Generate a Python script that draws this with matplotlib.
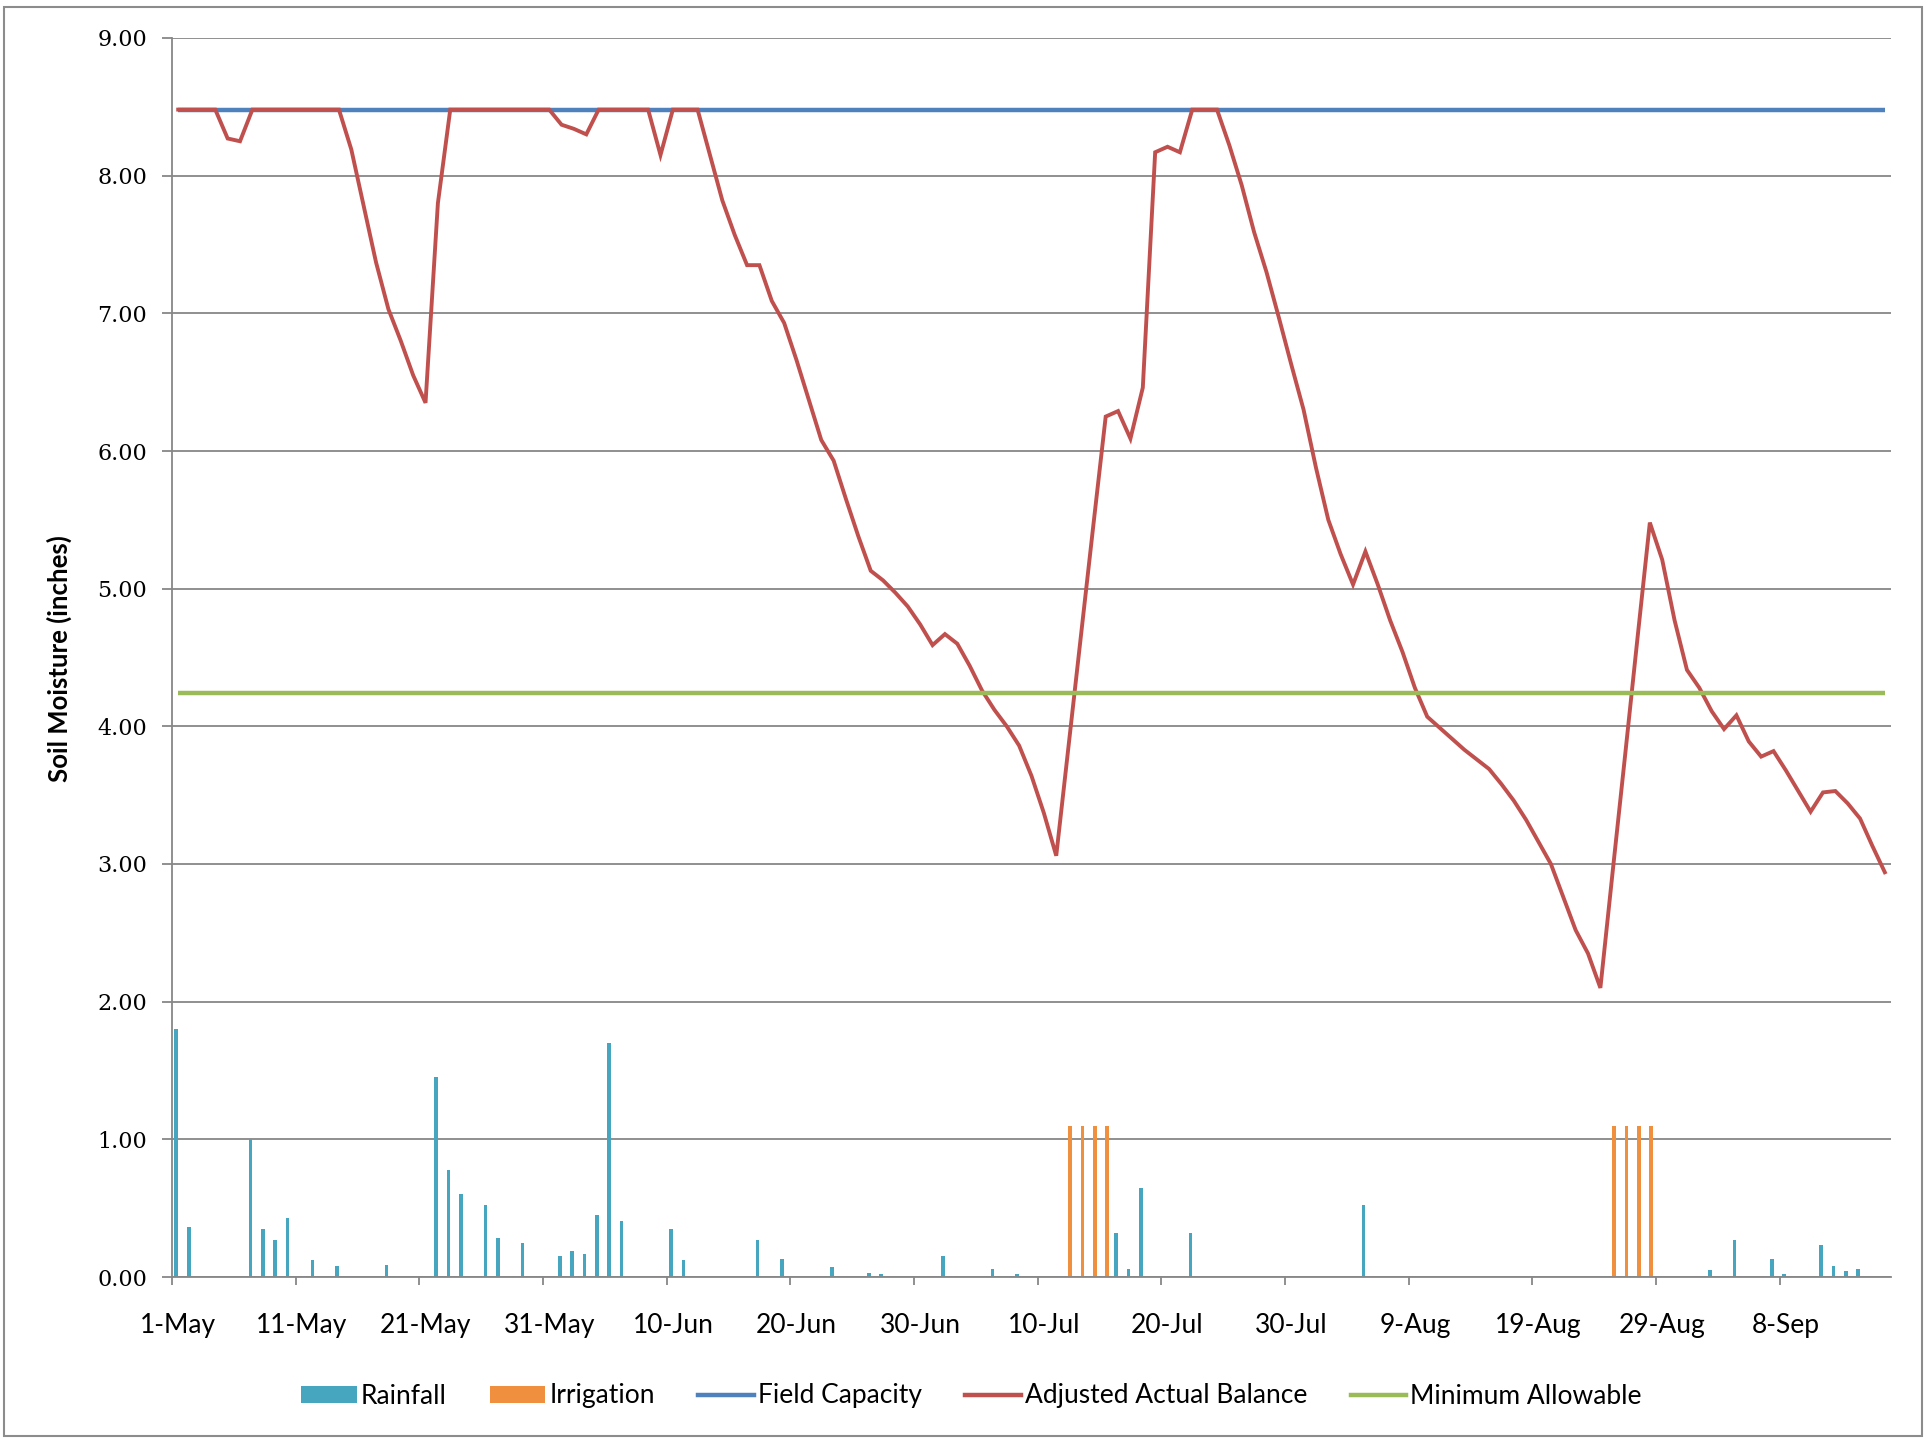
import matplotlib
matplotlib.use("Agg")
import matplotlib.pyplot as plt
import numpy as np
from matplotlib.patches import Patch, Rectangle
from matplotlib.lines import Line2D

# ---------------- data ----------------
tick_labels = ["1-May", "11-May", "21-May", "31-May", "10-Jun", "20-Jun", "30-Jun",
               "10-Jul", "20-Jul", "30-Jul", "9-Aug", "19-Aug", "29-Aug", "8-Sep"]

field_capacity = 8.48
minimum_allowable = 4.24

# Adjusted actual balance, one value per day starting 1-May (139 days)
balance = [
    8.48, 8.48, 8.48, 8.48, 8.27, 8.25, 8.48, 8.48, 8.48, 8.48,   # 0-9
    8.48, 8.48, 8.48, 8.48, 8.19, 7.78, 7.37, 7.03, 6.80, 6.55,   # 10-19
    6.35, 7.80, 8.48, 8.48, 8.48, 8.48, 8.48, 8.48, 8.48, 8.48,   # 20-29
    8.48, 8.37, 8.34, 8.30, 8.48, 8.48, 8.48, 8.48, 8.48, 8.15,   # 30-39
    8.48, 8.48, 8.48, 8.15, 7.82, 7.57, 7.35, 7.35, 7.09, 6.93,   # 40-49
    6.66, 6.37, 6.08, 5.93, 5.65, 5.38, 5.13, 5.06, 4.97, 4.87,   # 50-59
    4.74, 4.59, 4.67, 4.60, 4.44, 4.26, 4.12, 4.00, 3.86, 3.64,   # 60-69
    3.37, 3.06, 3.86, 4.66, 5.46, 6.25, 6.29, 6.09, 6.46, 8.17,   # 70-79
    8.21, 8.17, 8.48, 8.48, 8.48, 8.22, 7.93, 7.59, 7.30, 6.97,   # 80-89
    6.63, 6.30, 5.88, 5.50, 5.25, 5.03, 5.27, 5.03, 4.77, 4.54,   # 90-99
    4.28, 4.07, 3.99, 3.91, 3.83, 3.76, 3.69, 3.58, 3.46, 3.32,   # 100-109
    3.16, 3.00, 2.76, 2.52, 2.35, 2.10, 2.95, 3.79, 4.64, 5.48,   # 110-119
    5.21, 4.77, 4.41, 4.28, 4.11, 3.98, 4.08, 3.89, 3.78, 3.82,   # 120-129
    3.68, 3.53, 3.38, 3.52, 3.53, 3.44, 3.33, 3.13, 2.94,         # 130-138
]

# Rainfall (day index from 1-May, inches)
rain_days = [0, 1, 6, 7, 8, 9, 11, 13, 17, 21, 22, 23, 25, 26, 28, 31, 32, 33, 34, 35,
             36, 40, 41, 47, 49, 53, 56, 57, 62, 66, 68, 76, 77, 78, 82, 96, 124, 126,
             129, 130, 133, 134, 135, 136]
rain_in = [1.80, 0.36, 1.00, 0.35, 0.27, 0.43, 0.12, 0.08, 0.09, 1.45, 0.78, 0.60, 0.52,
           0.28, 0.25, 0.15, 0.19, 0.17, 0.45, 1.70, 0.41, 0.35, 0.12, 0.27, 0.13, 0.07,
           0.03, 0.02, 0.15, 0.06, 0.02, 0.32, 0.06, 0.65, 0.32, 0.52, 0.05, 0.27, 0.13,
           0.02, 0.23, 0.08, 0.04, 0.06]

# Irrigation (day index, inches)
irrig_days = [72, 73, 74, 75, 116, 117, 118, 119]
irrig_in = [1.10, 1.10, 1.10, 1.10, 1.10, 1.10, 1.10, 1.10]

# ---------------- styling ----------------
C_RAIN = "#46A6BF"
C_IRR = "#F0903F"
C_FC = "#4F81BD"
C_BAL = "#C0504D"
C_MIN = "#9BBB59"
C_GRID = "#878787"
SANS = ["Lato", "DejaVu Sans"]
SERIF = ["DejaVu Serif"]

W, H = 1931, 1439
fig = plt.figure(figsize=(W / 100, H / 100), dpi=100)
fig.patch.set_facecolor("white")

left, right, top, bottom = 172, 1891, 38, 1277
ax = fig.add_axes([left / W, 1 - bottom / H, (right - left) / W, (bottom - top) / H])

n = len(balance)
days = np.arange(n)

ax.bar(np.array(rain_days) - 0.15, rain_in, width=0.3, color=C_RAIN, zorder=2)
ax.bar(np.array(irrig_days) + 0.12, irrig_in, width=0.3, color=C_IRR, zorder=2)
ax.plot(days, np.full(n, field_capacity), color=C_FC, lw=3.2, zorder=3,
        solid_capstyle="butt")
ax.plot(days, balance, color=C_BAL, lw=2.8, zorder=4, solid_joinstyle="miter")
ax.plot(days, np.full(n, minimum_allowable), color=C_MIN, lw=3.2, zorder=5,
        solid_capstyle="butt")

ax.set_xlim(-0.5, n - 0.5)
ax.set_ylim(0, 9)

ax.set_yticks(np.arange(0, 10, 1))
ax.set_yticklabels([f"{v:.2f}" for v in range(10)], fontfamily=SERIF, fontsize=16)
ax.yaxis.grid(True, color=C_GRID, lw=1.3)
ax.set_axisbelow(True)

label_pos = np.arange(0, n, 10)[:len(tick_labels)]
ax.set_xticks(label_pos)
ax.set_xticklabels(tick_labels, fontfamily=SANS, fontsize=19)
ax.set_xticks(np.arange(-0.5, n, 10), minor=True)
ax.tick_params(axis="x", which="major", length=0, pad=26, colors="black")
ax.tick_params(axis="x", which="minor", length=6, width=1.3, color=C_GRID, direction="out")
ax.tick_params(axis="y", which="major", length=7, width=1.3, color=C_GRID, pad=11,
               labelcolor="black")

for s in ["top", "right"]:
    ax.spines[s].set_visible(False)
for s in ["left", "bottom"]:
    ax.spines[s].set_color(C_GRID)
    ax.spines[s].set_linewidth(1.3)

fig.text(59 / W, 1 - 659 / H, "Soil Moisture (inches)", rotation=90, ha="center",
         va="center", fontsize=18.5, fontweight="bold", fontfamily=SANS)

handles = [
    Patch(facecolor=C_RAIN, edgecolor="none"),
    Patch(facecolor=C_IRR, edgecolor="none"),
    Line2D([], [], color=C_FC, lw=3.2),
    Line2D([], [], color=C_BAL, lw=3.2),
    Line2D([], [], color=C_MIN, lw=3.2),
]
labels = ["Rainfall", "Irrigation", "Field Capacity", "Adjusted Actual Balance",
          "Minimum Allowable"]
fig.legend(handles, labels, loc="center", bbox_to_anchor=(0.503, 1 - 1396 / H), ncol=5,
           frameon=False, handlelength=2.1, handleheight=0.6, handletextpad=0.15,
           columnspacing=1.65, prop={"family": SANS, "size": 19})

fig.patches.append(Rectangle((4 / W, 3 / H), (1922 - 4) / W, (1432 - 3) / H,
                             transform=fig.transFigure, fill=False,
                             edgecolor="#8C8C8C", lw=1.5))

fig.savefig("out.png", dpi=100)
